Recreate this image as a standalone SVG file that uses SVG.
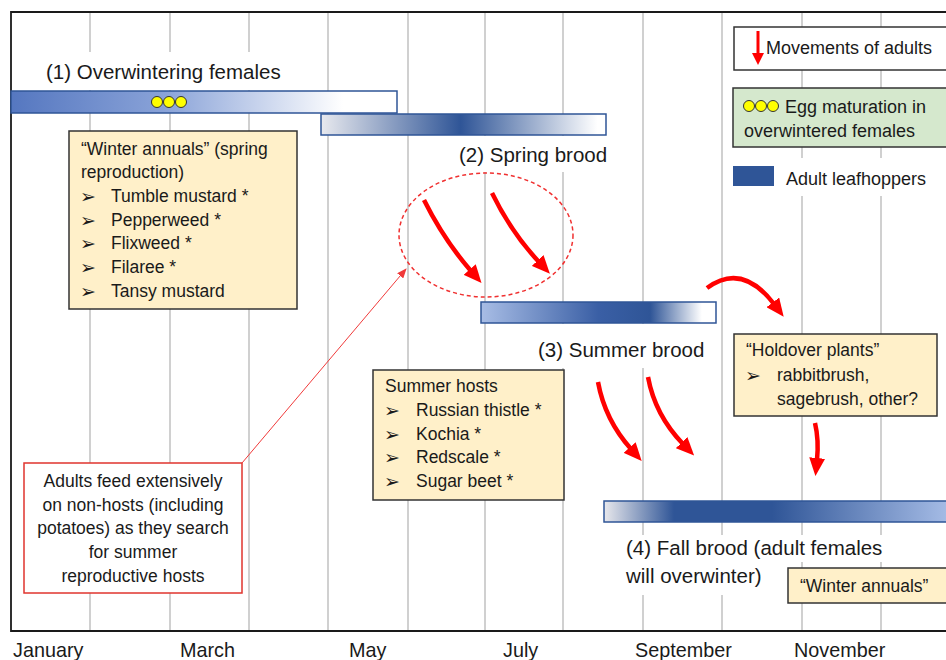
<svg xmlns="http://www.w3.org/2000/svg" width="946" height="660" viewBox="0 0 946 660">
<defs>
<style>
text{font-family:"Liberation Sans",Arial,sans-serif;fill:#1a1a1a}
.title{font-size:20.5px}
.month{font-size:19.8px}
.bt{font-size:17.5px}
.leg{font-size:18px}
.bul{font-family:"DejaVu Sans",sans-serif;font-size:19px;font-weight:bold}
.grid{stroke:#c0c0c0;stroke-width:1.5}
.bar{stroke:#2f5597;stroke-width:1.5}
.note{fill:#fff0c9;stroke:#333;stroke-width:1.5}
.wbg{fill:#fff}
.egg{fill:#ffff00;stroke:#333;stroke-width:1}
.mv{fill:none;stroke:#ff0000;stroke-width:4.5}
</style>
<linearGradient id="g1" x1="0" y1="0" x2="1" y2="0">
<stop offset="0" stop-color="#5577c0"/><stop offset="0.4" stop-color="#8aa3d8"/><stop offset="0.86" stop-color="#ffffff"/><stop offset="1" stop-color="#ffffff"/>
</linearGradient>
<linearGradient id="g2" x1="0" y1="0" x2="1" y2="0">
<stop offset="0" stop-color="#e8e9ee"/><stop offset="0.49" stop-color="#2f5597"/><stop offset="0.97" stop-color="#ffffff"/><stop offset="1" stop-color="#ffffff"/>
</linearGradient>
<linearGradient id="g3" x1="0" y1="0" x2="1" y2="0">
<stop offset="0" stop-color="#a8bde5"/><stop offset="0.5" stop-color="#3a5fa5"/><stop offset="0.72" stop-color="#2f5597"/><stop offset="0.94" stop-color="#ffffff"/><stop offset="1" stop-color="#ffffff"/>
</linearGradient>
<linearGradient id="g4" x1="0" y1="0" x2="1" y2="0">
<stop offset="0" stop-color="#e8e8ec"/><stop offset="0.2" stop-color="#2f5597"/><stop offset="0.48" stop-color="#2f5597"/><stop offset="1" stop-color="#a9bfe8"/>
</linearGradient>
<marker id="ah" markerUnits="userSpaceOnUse" markerWidth="18" markerHeight="16" viewBox="0 0 18 16" refX="2" refY="8" orient="auto"><path d="M0,0 L18,8 L0,16 z" fill="#ff0000"/></marker>
<marker id="ahm" markerUnits="userSpaceOnUse" markerWidth="12" markerHeight="12" viewBox="0 0 12 12" refX="1" refY="6" orient="auto"><path d="M0,0 L12,6 L0,12 z" fill="#ff0000"/></marker>
<marker id="ahs" markerUnits="userSpaceOnUse" markerWidth="10" markerHeight="8" viewBox="0 0 10 8" refX="9" refY="4" orient="auto"><path d="M0,0 L10,4 L0,8 z" fill="#f03a3a"/></marker>
</defs>
<rect width="946" height="660" fill="#fff"/>
<g id="grid">
<line class="grid" x1="90" y1="12" x2="90" y2="631"/>
<line class="grid" x1="170" y1="12" x2="170" y2="631"/>
<line class="grid" x1="249" y1="12" x2="249" y2="631"/>
<line class="grid" x1="328" y1="12" x2="328" y2="631"/>
<line class="grid" x1="408" y1="12" x2="408" y2="631"/>
<line class="grid" x1="485" y1="12" x2="485" y2="631"/>
<line class="grid" x1="563" y1="12" x2="563" y2="631"/>
<line class="grid" x1="643" y1="12" x2="643" y2="631"/>
<line class="grid" x1="722" y1="12" x2="722" y2="631"/>
<line class="grid" x1="802" y1="12" x2="802" y2="631"/>
<line class="grid" x1="881" y1="12" x2="881" y2="631"/>
</g>
<g id="axes">
<polyline points="946,12 11,12 11,631 946,631" fill="none" stroke="#1a1a1a" stroke-width="1.8"/>
<text class="month" x="13" y="657">January</text>
<text class="month" x="180" y="657">March</text>
<text class="month" x="349" y="657">May</text>
<text class="month" x="503" y="657">July</text>
<text class="month" x="635" y="657">September</text>
<text class="month" x="794" y="657">November</text>
</g>
<g id="overwintering">
<rect class="wbg" x="40" y="52" width="255" height="38"/>
<text class="title" x="46" y="79">(1) Overwintering females</text>
<rect class="bar" x="11" y="91" width="386" height="22" fill="url(#g1)"/>
<circle class="egg" cx="157" cy="102" r="5.5"/>
<circle class="egg" cx="169" cy="102" r="5.5"/>
<circle class="egg" cx="181" cy="102" r="5.5"/>
</g>
<g id="spring">
<rect class="wbg" x="452" y="136" width="160" height="36"/>
<rect class="bar" x="321" y="114" width="285" height="21" fill="url(#g2)"/>
<text class="title" x="459" y="162">(2) Spring brood</text>
</g>
<g id="summer">
<rect class="wbg" x="530" y="324" width="180" height="44"/>
<rect class="bar" x="481" y="302" width="235" height="21" fill="url(#g3)"/>
<text class="title" x="538" y="357">(3) Summer brood</text>
</g>
<g id="fall">
<rect class="wbg" x="620" y="535" width="268" height="27"/>
<rect class="wbg" x="620" y="562" width="152" height="33"/>
<rect class="bar" x="604" y="501" width="350" height="21" fill="url(#g4)"/>
<text class="title" x="626" y="555">(4) Fall brood (adult females</text>
<text class="title" x="626" y="583">will overwinter)</text>
</g>
<g id="winter-annuals">
<rect class="note" x="69" y="131" width="228" height="178"/>
<text class="bt" x="81" y="155">“Winter annuals” (spring</text>
<text class="bt" x="81" y="178">reproduction)</text>
<text class="bul" x="80" y="203">➢</text><text class="bt" x="111" y="202">Tumble mustard *</text>
<text class="bul" x="80" y="227">➢</text><text class="bt" x="111" y="226">Pepperweed  *</text>
<text class="bul" x="80" y="250">➢</text><text class="bt" x="111" y="249">Flixweed *</text>
<text class="bul" x="80" y="274">➢</text><text class="bt" x="111" y="273">Filaree *</text>
<text class="bul" x="80" y="298">➢</text><text class="bt" x="111" y="297">Tansy mustard</text>
</g>
<g id="summer-hosts">
<rect class="note" x="373" y="370" width="191" height="130"/>
<text class="bt" x="385" y="392">Summer hosts</text>
<text class="bul" x="384" y="417">➢</text><text class="bt" x="416" y="416">Russian thistle *</text>
<text class="bul" x="384" y="441">➢</text><text class="bt" x="416" y="440">Kochia  *</text>
<text class="bul" x="384" y="464">➢</text><text class="bt" x="416" y="463">Redscale  *</text>
<text class="bul" x="384" y="488">➢</text><text class="bt" x="416" y="487">Sugar beet *</text>
</g>
<g id="holdover">
<rect class="note" x="734" y="334" width="203" height="82"/>
<text class="bt" x="746" y="356">“Holdover plants”</text>
<text class="bul" x="745" y="382">➢</text><text class="bt" x="777" y="381">rabbitbrush,</text>
<text class="bt" x="777" y="405">sagebrush, other?</text>
</g>
<g id="winter-annuals-fall">
<rect class="note" x="788" y="568" width="170" height="35"/>
<text class="bt" x="800" y="592">“Winter annuals”</text>
</g>
<g id="non-host-note">
<rect x="24" y="463" width="218" height="130" fill="#fff" stroke="#e0352e" stroke-width="1.5"/>
<text class="bt" x="133" y="487" text-anchor="middle">Adults feed extensively</text>
<text class="bt" x="133" y="511" text-anchor="middle">on non-hosts (including</text>
<text class="bt" x="133" y="534" text-anchor="middle">potatoes) as they search</text>
<text class="bt" x="133" y="558" text-anchor="middle">for summer</text>
<text class="bt" x="133" y="582" text-anchor="middle">reproductive hosts</text>
</g>
<g id="legend">
<rect x="734" y="27" width="220" height="43" fill="#fff" stroke="#333" stroke-width="1.5"/>
<path d="M758,31 L758,54" fill="none" stroke="#ff0000" stroke-width="3" marker-end="url(#ahm)"/>
<text class="leg" x="766" y="54">Movements of adults</text>
<rect x="733" y="88" width="220" height="59" fill="#d5e8cd" stroke="#333" stroke-width="1.5"/>
<circle class="egg" cx="749" cy="106" r="5.5"/>
<circle class="egg" cx="761" cy="106" r="5.5"/>
<circle class="egg" cx="773" cy="106" r="5.5"/>
<text class="leg" x="785" y="113">Egg maturation in</text>
<text class="leg" x="744" y="137">overwintered females</text>
<rect class="wbg" x="728" y="158" width="218" height="38"/>
<rect x="733" y="166" width="41" height="20" fill="#2f5597"/>
<text class="leg" x="786" y="185">Adult leafhoppers</text>
</g>
<g id="connectors">
<ellipse cx="486" cy="235" rx="87" ry="62" fill="none" stroke="#f03030" stroke-width="1.5" stroke-dasharray="4 3"/>
<path d="M242,463 L406,269" fill="none" stroke="#f03a3a" stroke-width="1" marker-end="url(#ahs)"/>
<path class="mv" d="M424,200 Q444,240 471,271" marker-end="url(#ah)"/>
<path class="mv" d="M492,193 Q511,232 539,262" marker-end="url(#ah)"/>
<path class="mv" d="M598,382 Q605,420 631,449" marker-end="url(#ah)"/>
<path class="mv" d="M648,377 Q655,415 683,444" marker-end="url(#ah)"/>
<path class="mv" d="M707,288 Q742,262 774,304" marker-end="url(#ah)"/>
<path class="mv" d="M815,423 Q819,440 817,460" marker-end="url(#ah)"/>
</g>
</svg>
